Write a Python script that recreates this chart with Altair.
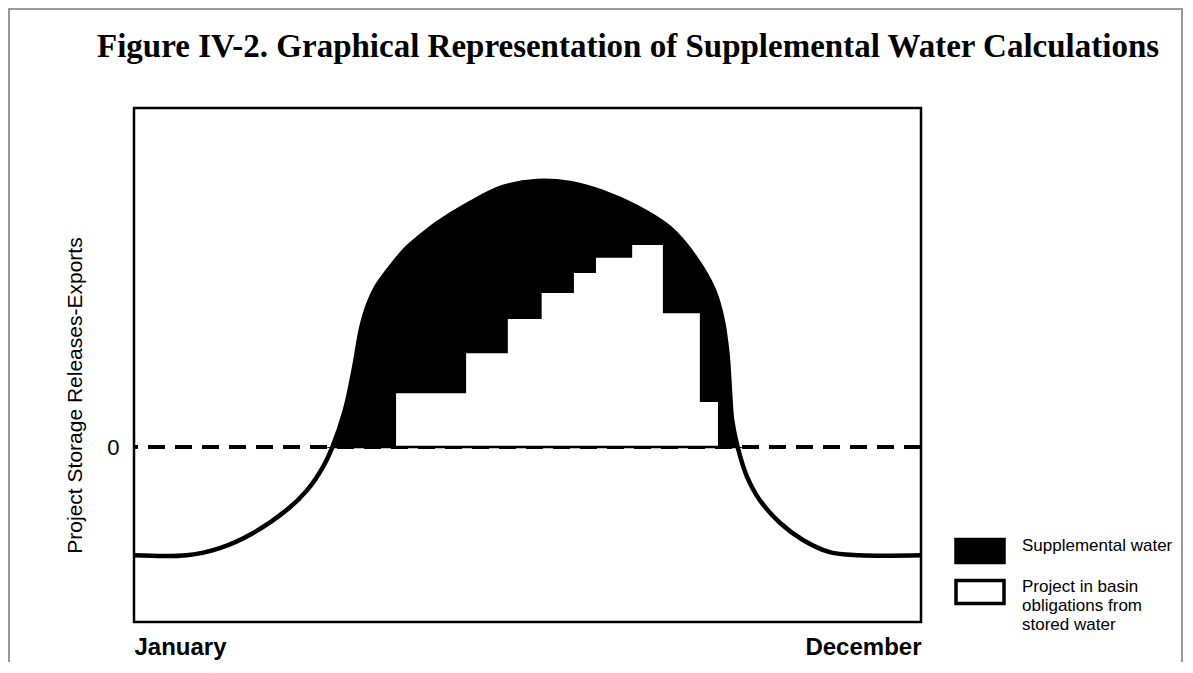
import altair as alt
import pandas as pd

# ---- data ----
# position in the year (0 = January, 100 = December) and storage releases-exports (0 = dashed line)
curve_x = [0, 6.7, 10.9, 15.1, 19.4, 22.0, 24.0, 25.2, 26.8, 27.9, 28.9, 29.8, 30.8, 32.3, 34.4,
           36.3, 38.5, 42.7, 46.9, 51.2, 55.4, 59.6, 63.9, 68.1, 71.3, 73.7, 74.8, 75.4, 75.7,
           76.0, 76.7, 77.9, 79.5, 82.1, 85.0, 88.4, 92.2, 100]
curve_y = [-31.9, -31.9, -29.8, -25.4, -18.6, -12.7, -5.9, 0, 10.9, 22.7, 35.5, 42.4, 47.3, 52.2, 58.1,
           62.0, 66.0, 72.0, 76.7, 78.5, 77.9, 75.2, 70.8, 64.6, 56.0, 46.3, 37.5, 27.7, 17.7,
           8.0, 0, -8.8, -15.6, -22.4, -27.4, -31.0, -31.9, -31.9]

# monthly obligations met from stored water (steps)
step_start = [33.3, 42.2, 47.5, 51.8, 55.9, 58.7, 63.3, 67.2, 71.9]
step_end = [42.2, 47.5, 51.8, 55.9, 58.7, 63.3, 67.2, 71.9, 74.2]
step_top = [15.9, 27.7, 37.8, 45.4, 51.3, 55.8, 59.6, 39.5, 13.3]

zero_cross = [25.2, 76.7]

SUP = "Supplemental water"
OBL = "Project in basin obligations from stored water"

curve_df = pd.DataFrame({"x": curve_x, "y": curve_y, "kind": SUP})
# step-after area: each step starts at its start and holds its level until the next one
steps_df = pd.DataFrame({
    "x": step_start + [step_end[-1]],
    "top": step_top + [step_top[-1]],
    "kind": OBL,
})
cross_df = pd.DataFrame({"x": [zero_cross[0]], "x2": [zero_cross[1]]})

SANS = "Liberation Sans, Arial, sans-serif"

xscale = alt.Scale(domain=[0, 100], nice=False, zero=False)
yscale = alt.Scale(domain=[-51.6, 100], nice=False, zero=False)

fill_scale = alt.Scale(domain=[SUP, OBL], range=["black", "white"])

x_axis = alt.Axis(values=[0, 100], labelExpr="datum.value == 0 ? 'January' : 'December'",
                  labelFlush=True, tickSize=0, domain=False, grid=False, title=None,
                  labelFont=SANS, labelFontSize=24, labelFontWeight="bold", labelColor="black",
                  labelPadding=13)
y_axis = alt.Axis(values=[0], tickSize=0, domain=False, grid=False,
                  labelFont=SANS, labelFontSize=22, labelColor="black", labelPadding=15,
                  title="Project Storage Releases-Exports", titleFont=SANS, titleFontSize=21,
                  titleFontWeight="normal", titleColor="black", titleX=-59, titleY=287,
                  titleBaseline="middle", titleAlign="center")

legend = alt.Legend(title=None, orient="none", legendX=832, legendY=429,
                    symbolType="M-2,-0.95H2V0.95H-2Z", symbolSize=576,
                    symbolStrokeColor="black", symbolStrokeWidth=3.5, symbolOpacity=1,
                    labelFont=SANS, labelFontSize=17, labelColor="black", labelLimit=300,
                    labelOffset=28, rowPadding=3, labelBaseline="alphabetic",
                    labelExpr="datum.label == 'Supplemental water' ? datum.label : ['Project in basin', 'obligations from', 'stored water']")

base_curve = alt.Chart(curve_df)

area = base_curve.mark_area(interpolate="catmull-rom").transform_calculate(
    ypos="max(datum.y, 0)"
).encode(
    x=alt.X("x:Q", scale=xscale, axis=x_axis),
    y=alt.Y("ypos:Q", scale=yscale, axis=y_axis),
    y2=alt.Y2(datum=0),
    fill=alt.Fill("kind:N", scale=fill_scale, legend=legend),
)

zero_dash = alt.Chart(curve_df).mark_rule(color="black", strokeWidth=2.5, strokeDash=[17, 10]).encode(
    y=alt.Y(datum=0, scale=yscale)
)

steps = alt.Chart(steps_df).mark_area(interpolate="step-after").encode(
    x=alt.X("x:Q", scale=xscale),
    y=alt.Y("top:Q", scale=yscale),
    y2=alt.Y2(datum=0),
    fill=alt.Fill("kind:N", scale=fill_scale, legend=legend),
)

zero_solid = alt.Chart(cross_df).mark_rule(color="black", strokeWidth=2.5).encode(
    x=alt.X("x:Q", scale=xscale), x2="x2:Q", y=alt.Y(datum=0, scale=yscale)
)

line = base_curve.mark_line(interpolate="catmull-rom", color="black", strokeWidth=4.5).encode(
    x=alt.X("x:Q", scale=xscale),
    y=alt.Y("y:Q", scale=yscale),
)

# faint scan border around the whole figure
frame = alt.Chart(cross_df).mark_rect(filled=False, color="#9a9a9a", strokeWidth=2, clip=False).encode(
    x=alt.value(-125), x2=alt.value(1048), y=alt.value(-99), y2=alt.value(570)
)

chart = alt.layer(frame, zero_dash, area, steps, zero_solid, line).properties(
    width=787, height=514,
    autosize=alt.AutoSizeParams(type="none"),
    padding={"left": 126, "top": 100, "right": 264, "bottom": 40},
    title=alt.TitleParams(
        "Figure IV-2. Graphical Representation of Supplemental Water Calculations",
        font="Liberation Serif", fontSize=33, fontWeight="bold", color="black",
        anchor="start", frame="group", dx=-37, baseline="alphabetic", offset=0, dy=82,
    ),
).configure(
    background="white",
    view=alt.ViewConfig(stroke="black", strokeWidth=2.5),
)

chart.save("out.html", embed_options={"renderer": "svg", "actions": False})
